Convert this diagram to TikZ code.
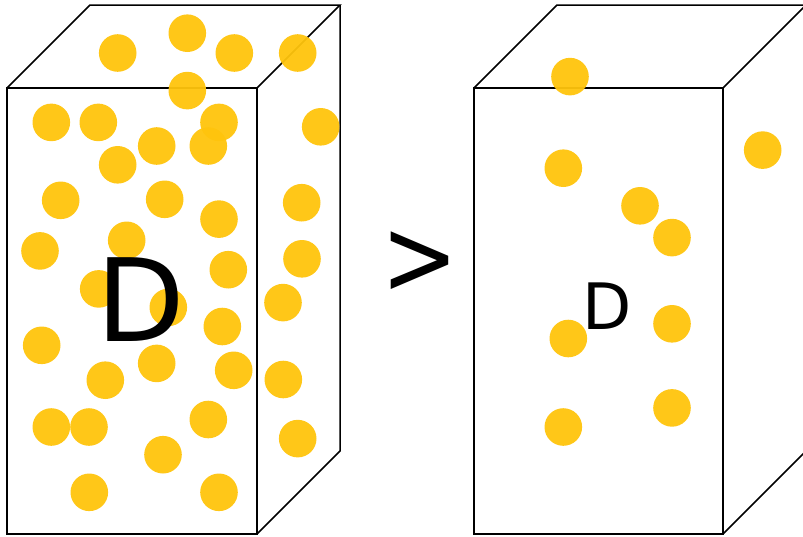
\documentclass[tikz,border=0pt]{standalone}
\usepackage{fontspec}
\setmainfont{DejaVu Sans}
\definecolor{ball}{RGB}{255,196,12}
\begin{document}
\begin{tikzpicture}[x=1pt,y=-1pt,
  edge/.style={line width=1.5pt,line join=miter},
  ball/.style={fill=ball,fill opacity=0.95},
  label/.style={inner sep=0pt,text=black}]
\useasboundingbox (0,0) rectangle (803,536);
\clip (0,0) rectangle (803,536);
% left box
\coordinate (lf1) at (7,88);   \coordinate (lf2) at (257,88);
\coordinate (lf3) at (257,534);\coordinate (lf4) at (7,534);
\coordinate (lb1) at (90,5);   \coordinate (lb2) at (340,5);
\coordinate (lb3) at (340,451);
\draw[edge] (lf1) -- (lf2) -- (lf3) -- (lf4) -- cycle;
\draw[edge] (lf1) -- (lb1) -- (lb2) -- (lf2);
\draw[edge] (lb2) -- (lb3) -- (lf3);
% right box
\coordinate (rf1) at (474,88);  \coordinate (rf2) at (723,88);
\coordinate (rf3) at (723,534); \coordinate (rf4) at (474,534);
\coordinate (rb1) at (557,5);   \coordinate (rb2) at (806,5);
\coordinate (rb3) at (806,451);
\draw[edge] (rf1) -- (rf2) -- (rf3) -- (rf4) -- cycle;
\draw[edge] (rf1) -- (rb1) -- (rb2) -- (rf2);
\draw[edge] (rb2) -- (rb3) -- (rf3);
% left balls
\foreach \x/\y in {117.7/53,187.3/33.2,234.3/53,297.7/53,187.3/90.6,
  51.3/122.4,98.3/122.4,219/122.4,320.7/126.8,156.7/146,208.3/146,
  117.7/164.8,60.7/200.3,164.7/199.3,219/219.1,301.7/202.7,40/250.9,
  126.7/240.3,228.3/269.7,302/258.8,98.7/288.9,168.3/307.4,283/302.6,
  222.3/326.5,41.7/345.3,156.7/363.4,105.3/380.2,233.7/370.3,283.3/379.5,
  51.3/427,89/427,208.3/419.5,163/454.7,297.7/438.6,89.3/492.3,219/492.3}
  \fill[ball] (\x,\y) circle[radius=18.8];
% right balls
\foreach \x/\y in {570/76.6,563.3/168.2,640/205.8,672/237.6,762.7/150.1,
  568.3/338.5,672/323.8,563.3/427,672/407.9}
  \fill[ball] (\x,\y) circle[radius=18.8];
% texts
\node[label,font=\fontsize{115}{115}\selectfont] (bigD) at (141,300) {D};
\node[label,font=\fontsize{64}{64}\selectfont] (smallD) at (607.5,306.5) {D};
\node[label,font=\fontsize{108}{108}\selectfont,xscale=0.85] (gt) at (419.5,263) {>};
\end{tikzpicture}
\end{document}
